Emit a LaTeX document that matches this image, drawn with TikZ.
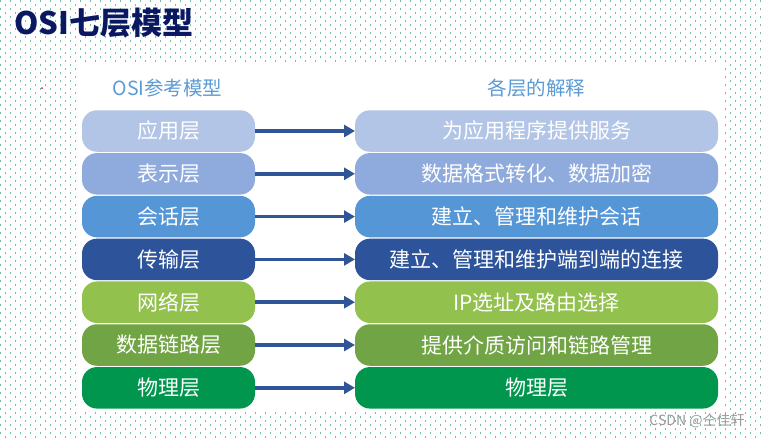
\documentclass[tikz,border=0pt]{standalone}
\usepackage{fontspec}
\setmainfont{Noto Sans CJK SC}
\usetikzlibrary{arrows.meta}
\definecolor{dotc}{RGB}{110,192,172}
\definecolor{titlec}{RGB}{10,24,98}
\definecolor{headc}{RGB}{91,155,213}
\definecolor{arrowc}{RGB}{47,85,151}
\definecolor{appc}{RGB}{178,197,230}
\definecolor{prec}{RGB}{143,170,220}
\definecolor{sesc}{RGB}{85,150,215}
\definecolor{trac}{RGB}{45,84,155}
\definecolor{netc}{RGB}{146,193,77}
\definecolor{linkc}{RGB}{112,164,68}
\definecolor{phyc}{RGB}{0,150,78}
\tikzset{
  layerbox/.style={rounded corners=15pt,minimum height=41.5pt,inner sep=0pt,outer sep=0pt,text=white,font=\fontsize{21}{24}\selectfont},
  flow/.style={arrowc,line width=3.6pt,-{Triangle[length=11pt,width=12pt]}},
  heading/.style={headc,font=\fontsize{19.5}{22}\selectfont}
}
\begin{document}
\begin{tikzpicture}[x=1pt,y=-1pt]
  \useasboundingbox (0,0) rectangle (762,437);
  \foreach \r in {0,...,109} {
    \pgfmathsetmacro{\ph}{mod(\r,2)*5}
    \draw[dotc,line width=1.2pt,dash pattern=on 1.2pt off 8.8pt,dash phase=\ph pt] (0,{1+4*\r}) -- (762,{1+4*\r});
  }
  \fill[white] (77,62) rectangle (723,412);
  \fill[red] (42,88) circle (1pt);
  \node[anchor=west,titlec,font=\fontsize{31}{34}\selectfont\bfseries] (title) at (11,23) {OSI七层模型};
  \node[heading] (lhead) at (167.5,88) {OSI参考模型};
  \node[heading] (rhead) at (536.5,88) {各层的解释};
  \foreach \i/\lname/\dname/\col in {
      1/应用层/为应用程序提供服务/appc,
      2/表示层/数据格式转化、数据加密/prec,
      3/会话层/建立、管理和维护会话/sesc,
      4/传输层/建立、管理和维护端到端的连接/trac,
      5/网络层/IP选址及路由选择/netc,
      6/数据链路层/提供介质访问和链路管理/linkc,
      7/物理层/物理层/phyc} {
    \node[layerbox,fill=\col,minimum width=173pt] (l\i) at (168.5,{131+42.8*(\i-1)}) {\lname};
    \node[layerbox,fill=\col,minimum width=363pt] (r\i) at (536.5,{131+42.8*(\i-1)}) {\dname};
    \draw[flow] (l\i) -- (r\i);
  }
  \node[gray!80,font=\fontsize{14}{16}\selectfont] (mark) at (697,421) {CSDN @仝佳轩};
\end{tikzpicture}
\end{document}
